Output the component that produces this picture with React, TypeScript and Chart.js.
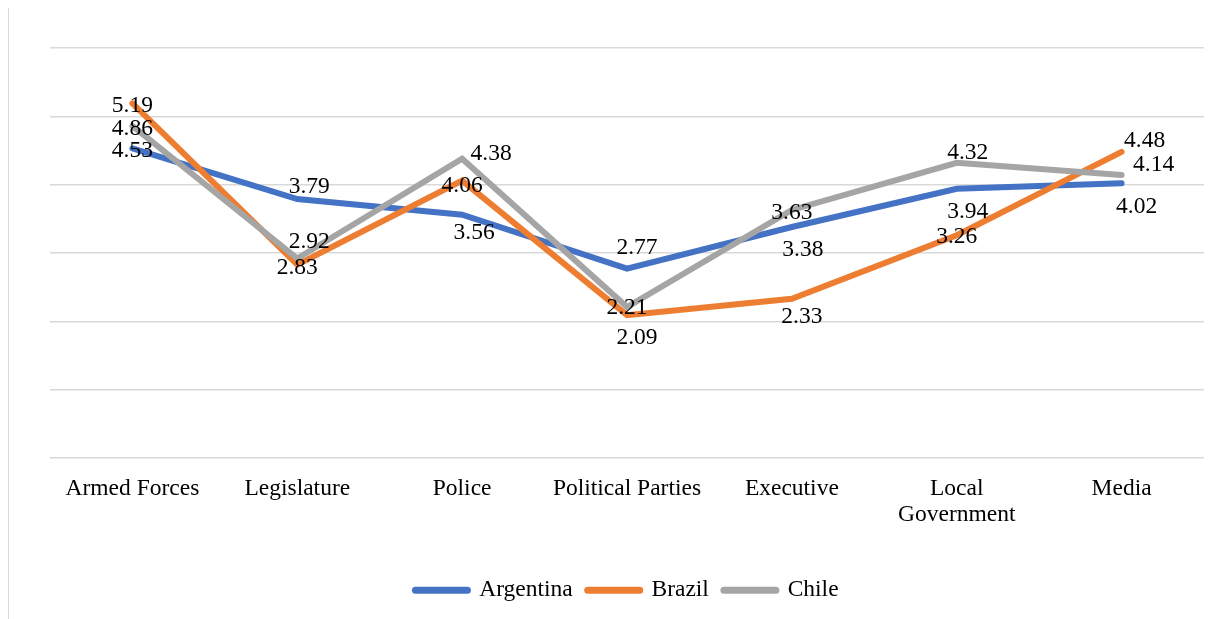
import React, { useEffect, useRef } from "react";
import { Chart, registerables } from "chart.js";

Chart.register(...registerables);

const categories: (string | string[])[] = [
  "Armed Forces",
  "Legislature",
  "Police",
  "Political Parties",
  "Executive",
  ["Local", "Government"],
  "Media",
];

const argentina = [4.53, 3.79, 3.56, 2.77, 3.38, 3.94, 4.02];
const brazil = [5.19, 2.83, 4.06, 2.09, 2.33, 3.26, 4.48];
const chile = [4.86, 2.92, 4.38, 2.21, 3.63, 4.32, 4.14];

const seriesNames = ["Argentina", "Brazil", "Chile"];
const seriesColors = ["#4472C4", "#ED7D31", "#A5A5A5"];

// label offsets (px) relative to each point: [dx, dy]
const argentinaLabelOffsets = [[0, 2], [12, -12], [12, 18], [10, -21], [11, 23], [11, 23], [15, 24]];
const brazilLabelOffsets = [[0, 2], [0, 3], [0, 5], [10, 23], [10, 18], [0, 2], [23, -11]];
const chileLabelOffsets = [[0, 3], [12, -17], [29, -5], [0, 1], [0, 3], [11, -10], [32, -10]];

const FONT = '"Liberation Serif", "Times New Roman", serif';
const FONT_SIZE = 23.5;

const labelOffsets = [argentinaLabelOffsets, brazilLabelOffsets, chileLabelOffsets];

const dataLabelPlugin = {
  id: "dataLabels",
  afterDatasetsDraw(chart: any) {
    const ctx = chart.ctx;
    ctx.save();
    ctx.font = `${FONT_SIZE}px ${FONT}`;
    ctx.fillStyle = "#000";
    ctx.textAlign = "center";
    ctx.textBaseline = "middle";
    chart.data.datasets.forEach((ds: any, di: number) => {
      const meta = chart.getDatasetMeta(di);
      meta.data.forEach((pt: any, i: number) => {
        const off = labelOffsets[di][i];
        ctx.fillText(Number(ds.data[i]).toFixed(2), pt.x + off[0], pt.y + off[1]);
      });
    });
    ctx.restore();
  },
};

export default function App() {
  const ref = useRef<HTMLCanvasElement>(null);

  useEffect(() => {
    document.body.style.overflow = "hidden";
    const seriesData = [argentina, brazil, chile];
    const chart = new Chart(ref.current as HTMLCanvasElement, {
      type: "line",
      data: {
        labels: categories,
        datasets: seriesData.map((d, i) => ({
          label: seriesNames[i],
          data: d,
          borderColor: seriesColors[i],
          backgroundColor: seriesColors[i],
          borderWidth: 6,
          borderCapStyle: "round" as const,
          borderJoinStyle: "miter" as const,
          pointRadius: 0,
          pointHoverRadius: 0,
          tension: 0,
          fill: false,
          order: 2 - i,
        })),
      },
      options: {
        animation: false,
        responsive: false,
        maintainAspectRatio: false,
        events: [],
        layout: { padding: { left: 41, right: 14, top: 40, bottom: 7 } },
        scales: {
          x: {
            offset: true,
            grid: { display: false, drawTicks: false },
            border: { display: false },
            ticks: {
              color: "#000",
              padding: 18,
              maxRotation: 0,
              autoSkip: false,
              font: { family: FONT, size: FONT_SIZE, lineHeight: "26px" },
            },
            afterFit: (scale: any) => {
              scale.height = 105.5;
            },
          },
          y: {
            min: 0,
            max: 6,
            ticks: { display: false, stepSize: 1 },
            grid: { color: "#d9d9d9", lineWidth: 1.5, drawTicks: false },
            border: { display: false },
            afterFit: (scale: any) => {
              scale.width = 0;
            },
          },
        },
        plugins: {
          tooltip: { enabled: false },
          legend: {
            position: "bottom",
            labels: {
              color: "#000",
              padding: 15,
              usePointStyle: true,
              pointStyleWidth: 52,
              font: { family: FONT, size: FONT_SIZE },
              generateLabels: () =>
                seriesNames.map((n, i) => ({
                  text: n,
                  fillStyle: seriesColors[i],
                  strokeStyle: seriesColors[i],
                  lineWidth: 7,
                  lineCap: "round" as const,
                  pointStyle: "line" as const,
                  fontColor: "#000",
                  hidden: false,
                  datasetIndex: i,
                })),
            },
          },
        },
      },
      plugins: [dataLabelPlugin],
    });
    return () => chart.destroy();
  }, []);

  return (
    <div
      style={{
        marginTop: -1,
        width: 1210,
        height: 612,
        borderTop: "1px solid #d9d9d9",
        borderLeft: "1px solid #d9d9d9",
        boxSizing: "border-box",
      }}
    >
      <canvas ref={ref} width={1209} height={611} style={{ display: "block", width: 1209, height: 611 }} />
    </div>
  );
}
